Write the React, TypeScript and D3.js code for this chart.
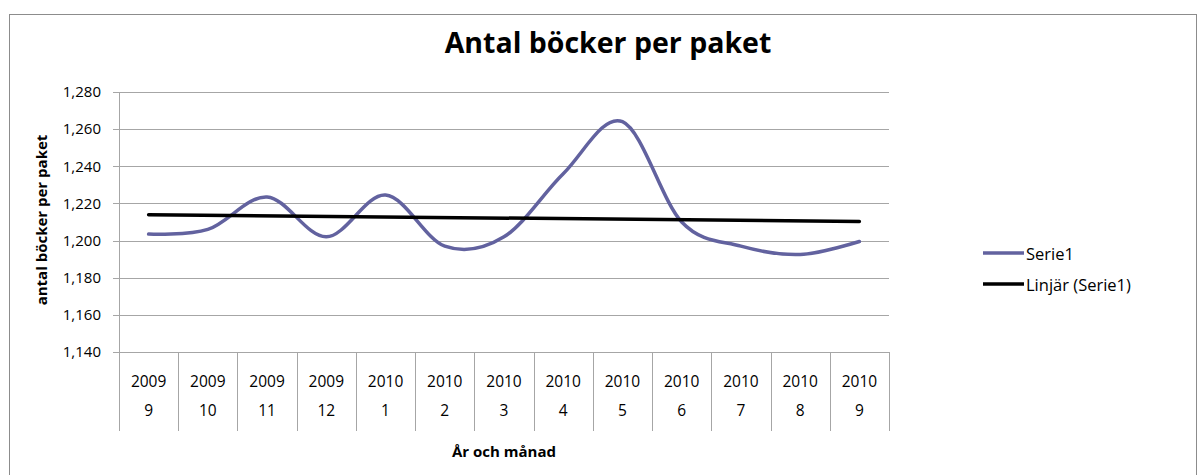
import React, { useEffect, useRef } from 'react';
import * as d3 from 'd3';

const years = ['2009', '2009', '2009', '2009', '2010', '2010', '2010', '2010', '2010', '2010', '2010', '2010', '2010'];
const months = ['9', '10', '11', '12', '1', '2', '3', '4', '5', '6', '7', '8', '9'];
const serie1 = [1203.5, 1206, 1223.5, 1202, 1224.5, 1197, 1202, 1236, 1264, 1210, 1197, 1192.5, 1199.5];
const yTicks = [1140, 1160, 1180, 1200, 1220, 1240, 1260, 1280];

const App: React.FC = () => {
  const ref = useRef<SVGSVGElement | null>(null);

  useEffect(() => {
    const width = 1200;
    const height = 475;
    const font = '"Open Sans", Lato, sans-serif';
    const purple = '#62629f';
    const grid = '#a6a6a6';

    const svg = d3.select(ref.current)
      .attr('width', width)
      .attr('height', height)
      .style('display', 'block')
      .style('position', 'absolute')
      .style('left', '0px')
      .style('top', '0px')
      .style('background', '#ffffff');
    svg.selectAll('*').remove();

    // outer chart border
    svg.append('rect')
      .attr('x', 9.5).attr('y', 14.5)
      .attr('width', 1187).attr('height', 480)
      .attr('fill', 'none').attr('stroke', '#8c8c8c');

    const left = 119, right = 889, top = 92, bottom = 352;
    const idx = d3.range(serie1.length);

    const x = d3.scaleBand<number>().domain(idx).range([left, right]).padding(0);
    const y = d3.scaleLinear().domain([1140, 1280]).range([bottom, top]);
    const cx = (i: number) => x(i)! + x.bandwidth() / 2;

    // gridlines + tick marks
    svg.append('g').selectAll('line')
      .data(yTicks)
      .join('line')
        .attr('x1', left - 6).attr('x2', right)
        .attr('y1', d => Math.round(y(d)) + 0.5).attr('y2', d => Math.round(y(d)) + 0.5)
        .attr('stroke', grid).attr('stroke-width', 1);

    // y axis line
    svg.append('line')
      .attr('x1', left + 0.5).attr('x2', left + 0.5)
      .attr('y1', top).attr('y2', bottom)
      .attr('stroke', grid);

    // y tick labels
    const fmt = d3.format(',d');
    svg.append('g').selectAll('text')
      .data(yTicks)
      .join('text')
        .attr('x', left - 18)
        .attr('y', d => y(d))
        .attr('dy', '0.35em')
        .attr('text-anchor', 'end')
        .attr('font-family', font)
        .attr('font-size', 15)
        .attr('fill', '#000')
        .text(d => fmt(d));

    // category boundaries in label area
    const bounds = d3.range(serie1.length + 1).map(i => i === serie1.length ? right : x(i)!);
    svg.append('g').selectAll('line')
      .data(bounds)
      .join('line')
        .attr('x1', d => Math.round(d) + 0.5).attr('x2', d => Math.round(d) + 0.5)
        .attr('y1', bottom).attr('y2', 431)
        .attr('stroke', grid);

    svg.append('g').selectAll('text')
      .data(idx)
      .join('text')
        .attr('x', d => cx(d))
        .attr('y', 381.5)
        .attr('dy', '0.35em')
        .attr('text-anchor', 'middle')
        .attr('font-family', font)
        .attr('font-size', 15.5)
        .text(d => years[d]);

    svg.append('g').selectAll('text')
      .data(idx)
      .join('text')
        .attr('x', d => cx(d))
        .attr('y', 411)
        .attr('dy', '0.35em')
        .attr('text-anchor', 'middle')
        .attr('font-family', font)
        .attr('font-size', 15.5)
        .text(d => months[d]);

    // trend line (least squares)
    const mx = d3.mean(idx)!;
    const my = d3.mean(serie1)!;
    const slope = d3.sum(idx, i => (i - mx) * (serie1[i] - my)) / d3.sum(idx, i => (i - mx) ** 2);
    const fit = (i: number) => my + slope * (i - mx);
    const last = serie1.length - 1;

    // series line
    const line = d3.line<number>()
      .x((d, i) => cx(i))
      .y(d => y(d))
      .curve(d3.curveCardinal.tension(0));

    svg.append('path')
      .datum(serie1)
      .attr('d', line)
      .attr('fill', 'none')
      .attr('stroke', purple)
      .attr('stroke-width', 3.5)
      .attr('stroke-linecap', 'round')
      .attr('stroke-linejoin', 'round');

    svg.append('line')
      .attr('x1', cx(0)).attr('y1', y(fit(0)))
      .attr('x2', cx(last)).attr('y2', y(fit(last)))
      .attr('stroke', '#000')
      .attr('stroke-width', 3.5)
      .attr('stroke-linecap', 'round');

    // title
    svg.append('text')
      .attr('x', 608).attr('y', 53)
      .attr('text-anchor', 'middle')
      .attr('font-family', font)
      .attr('font-weight', 'bold')
      .attr('font-size', 28.5)
      .text('Antal böcker per paket');

    // axis titles
    svg.append('text')
      .attr('transform', `translate(42, ${(top + bottom) / 2 - 2}) rotate(-90)`)
      .attr('dy', '0.35em')
      .attr('text-anchor', 'middle')
      .attr('font-family', font)
      .attr('font-weight', 'bold')
      .attr('font-size', 15)
      .text('antal böcker per paket');

    svg.append('text')
      .attr('x', (left + right) / 2).attr('y', 452)
      .attr('dy', '0.35em')
      .attr('text-anchor', 'middle')
      .attr('font-family', font)
      .attr('font-weight', 'bold')
      .attr('font-size', 15)
      .text('År och månad');

    // legend
    const legend = [
      { label: 'Serie1', color: purple, yy: 253 },
      { label: 'Linjär (Serie1)', color: '#000', yy: 284 },
    ];
    const lg = svg.append('g').selectAll('g')
      .data(legend)
      .join('g')
        .attr('transform', d => `translate(983, ${d.yy})`);
    lg.append('line')
      .attr('x1', 0).attr('x2', 41)
      .attr('stroke', d => d.color)
      .attr('stroke-width', 3.5);
    lg.append('text')
      .attr('x', 43)
      .attr('dy', '0.4em')
      .attr('font-family', font)
      .attr('font-size', 16.5)
      .text(d => d.label);
  }, []);

  return <svg ref={ref}></svg>;
};

export default App;
